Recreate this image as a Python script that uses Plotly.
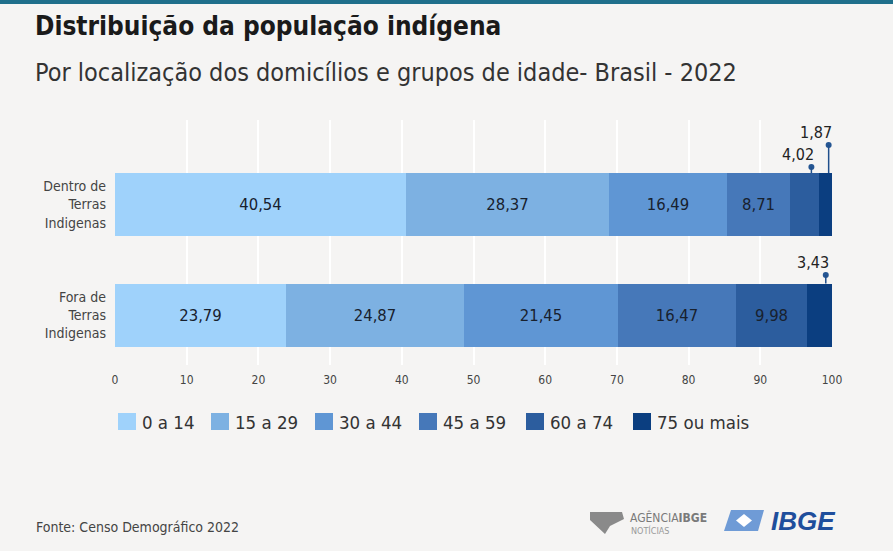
import plotly.graph_objects as go

categories = ["Dentro de<br>Terras<br>Indigenas", "Fora de<br>Terras<br>Indigenas"]
groups = ["0 a 14", "15 a 29", "30 a 44", "45 a 59", "60 a 74", "75 ou mais"]
dentro = [40.54, 28.37, 16.49, 8.71, 4.02, 1.87]
fora = [23.79, 24.87, 21.45, 16.47, 9.98, 3.43]
colors = ["#9fd2fb", "#7db1e2", "#5f96d4", "#4678b9", "#2c5d9e", "#0b3e80"]
x_ticks = [0, 10, 20, 30, 40, 50, 60, 70, 80, 90, 100]

FONT = "DejaVu Sans Condensed, Roboto Condensed, Liberation Sans Narrow, Roboto, sans-serif"
BG = "#f5f4f3"
y_pos = [1, 0]  # Dentro on top, Fora below
inside_min = 5.0

def fmt(v):
    return f"{v:.2f}".replace(".", ",")

W, H = 893, 551
ml, mr, mt, mb = 115, 61, 120, 186
ph = H - mt - mb
pw = W - ml - mr

def py(p):
    return 1 + (mt - p) / ph

def px_(p):
    return (p - ml) / pw

fig = go.Figure()
series = [dentro, fora]
for gi, g in enumerate(groups):
    vals = [s[gi] for s in series]
    texts = [fmt(v) if v >= inside_min else "" for v in vals]
    fig.add_trace(go.Bar(
        x=vals, y=y_pos, orientation="h", name=g, showlegend=False,
        marker=dict(color=colors[gi], line=dict(width=0)),
        width=0.57, text=texts, textposition="inside", insidetextanchor="middle",
        textfont=dict(family=FONT, size=16.5, color="#18212e"),
        textangle=0,
    ))

leader_rows = {1: [1.339, 1.538], 0: [0.362]}
bar_half = 0.285
for si, s in enumerate(series):
    yc = y_pos[si]
    small_idx = [i for i, v in enumerate(s) if v < inside_min]
    heights = leader_rows[yc]
    for k, i in enumerate(small_idx):
        start = sum(s[:i])
        xd = start + 0.75 * s[i]
        yd = heights[k]
        fig.add_shape(type="line", x0=xd, x1=xd, y0=yc + bar_half, y1=yd,
                      line=dict(color="#1f4f8c", width=1.5), layer="above")
        fig.add_trace(go.Scatter(x=[xd], y=[yd], mode="markers", showlegend=False,
                                 marker=dict(color="#245592", size=6), hoverinfo="skip"))
        fig.add_annotation(x=xd, y=yd, text=fmt(s[i]), showarrow=False,
                           xanchor="right", yanchor="bottom", xshift=5, yshift=1,
                           font=dict(family=FONT, size=16, color="#222"))

# legend (manual, matching swatch size/placement)
legend_x = [118, 211, 315, 419, 526, 633]
for g, c, lx in zip(groups, colors, legend_x):
    fig.add_shape(type="rect", xref="paper", yref="paper",
                  x0=px_(lx), x1=px_(lx + 18), y0=py(430), y1=py(413),
                  fillcolor=c, line=dict(width=0))
    fig.add_annotation(xref="paper", yref="paper", x=px_(lx + 22), y=py(422),
                       xanchor="left", yanchor="middle", showarrow=False, text=g,
                       font=dict(family=FONT, size=18.5, color="#333"))

fig.update_layout(
    width=W, height=H, barmode="stack", bargap=0,
    paper_bgcolor=BG, plot_bgcolor=BG,
    margin=dict(l=ml, r=mr, t=mt, b=mb, pad=0),
    font=dict(family=FONT, color="#333"),
    showlegend=False,
    xaxis=dict(range=[0, 100], tickvals=x_ticks, ticktext=[str(t) for t in x_ticks],
               showgrid=True, gridcolor="#ffffff", gridwidth=2, zeroline=False,
               showline=False, ticks="", tickfont=dict(family=FONT, size=12, color="#444"),
               ticklabelstandoff=6, fixedrange=True),
    yaxis=dict(range=[-0.452, 1.765], tickvals=y_pos, ticktext=categories,
               showgrid=False, zeroline=False, showline=False, ticks="",
               tickfont=dict(family=FONT, size=14, color="#444"), ticklabelstandoff=8,
               fixedrange=True),
)

# header strip
fig.add_shape(type="rect", xref="paper", yref="paper", x0=px_(0), x1=px_(W),
              y0=py(4), y1=py(0), fillcolor="#1f6f8b", line=dict(width=0), layer="above")

fig.add_annotation(xref="paper", yref="paper", x=px_(33), y=py(26),
                   xanchor="left", yanchor="middle", showarrow=False,
                   text="<b>Distribuição da população indígena</b>",
                   font=dict(family=FONT, size=26, color="#1a1a1a"))
fig.add_annotation(xref="paper", yref="paper", x=px_(33), y=py(72),
                   xanchor="left", yanchor="middle", showarrow=False,
                   text="Por localização dos domicílios e grupos de idade- Brasil - 2022",
                   font=dict(family=FONT, size=25, color="#333"))
fig.add_annotation(xref="paper", yref="paper", x=px_(34), y=py(527),
                   xanchor="left", yanchor="middle", showarrow=False,
                   text="Fonte: Censo Demográfico 2022",
                   font=dict(family=FONT, size=14, color="#444"))

# logos (approximations)
fig.add_shape(type="path", xref="paper", yref="paper",
              path="M {a},{b} L {c},{b} L {d},{e} L {f},{g} L {h},{i} L {a},{j} Z".format(
                  a=px_(590), b=py(512), c=px_(622), d=px_(624), e=py(519),
                  f=px_(610), g=py(526), h=px_(605), i=py(534), j=py(520)),
              fillcolor="#8a8a8a", line=dict(width=0))
fig.add_annotation(xref="paper", yref="paper", x=px_(628), y=py(517),
                   xanchor="left", yanchor="middle", showarrow=False,
                   text="AGÊNCIA<b>IBGE</b>",
                   font=dict(family=FONT, size=12, color="#7a7a7a"))
fig.add_annotation(xref="paper", yref="paper", x=px_(629), y=py(530),
                   xanchor="left", yanchor="middle", showarrow=False,
                   text="NOTÍCIAS",
                   font=dict(family=FONT, size=9, color="#999"))
fig.add_shape(type="path", xref="paper", yref="paper",
              path="M {a},{t} L {b},{t} L {c},{u} L {d},{u} Z".format(
                  a=px_(731), b=px_(764), c=px_(758), d=px_(724), t=py(510), u=py(531)),
              fillcolor="#6f9bd6", line=dict(width=0))
fig.add_shape(type="path", xref="paper", yref="paper",
              path="M {a},{m} L {b},{t} L {c},{m} L {b},{u} Z".format(
                  a=px_(736), b=px_(744), c=px_(752), m=py(520.5), t=py(514), u=py(527)),
              fillcolor="#ffffff", line=dict(width=0))
fig.add_annotation(xref="paper", yref="paper", x=px_(837), y=py(521),
                   xanchor="right", yanchor="middle", showarrow=False,
                   text="<b><i>IBGE</i></b>",
                   font=dict(family="Liberation Sans, Arial, sans-serif", size=26, color="#1f4e9c"))

fig.write_html("out.html", config={"displayModeBar": False},
               post_script="document.body.style.margin='0';document.body.style.overflow='hidden';")
